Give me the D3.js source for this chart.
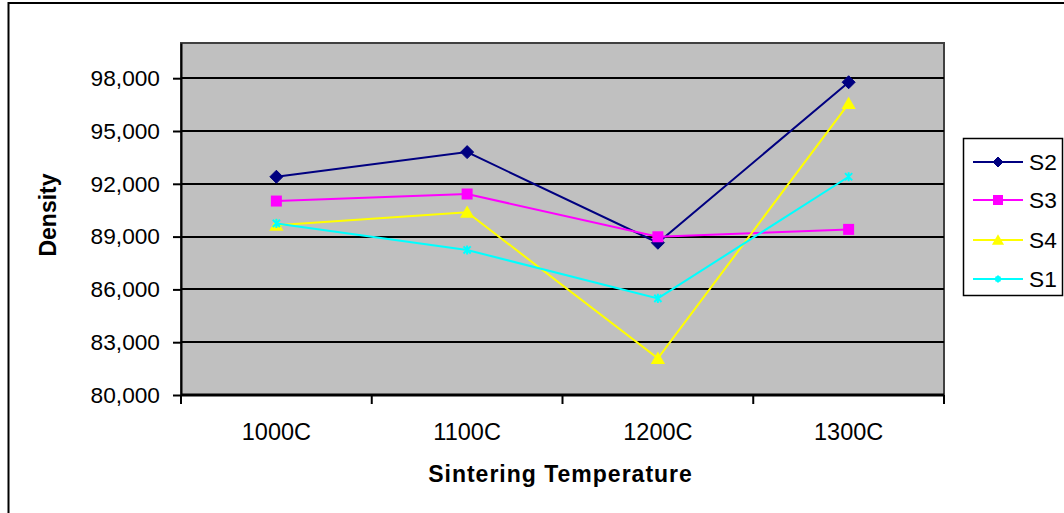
<!DOCTYPE html>
<html>
<head>
<meta charset="utf-8">
<script src="https://cdn.jsdelivr.net/npm/d3@7"></script>
<style>
  html, body { margin: 0; padding: 0; background: #fff; }
  svg { display: block; }
  text { font-family: "Liberation Sans", Arial, sans-serif; fill: #000; }
</style>
</head>
<body>
<svg id="chart" width="1064" height="513"></svg>
<script>
// ---- data ----
const categories = ["1000C", "1100C", "1200C", "1300C"];
const seriesNames = ["S2", "S3", "S4", "S1"];
const s2 = [92400, 93800, 88650, 97770];
const s3 = [91020, 91420, 88990, 89410];
const s4 = [89650, 90380, 82080, 96560];
const s1 = [89750, 88240, 85490, 92400];
const yTicks = [80000, 83000, 86000, 89000, 92000, 95000, 98000];
const yDomain = [80000, 100000];
const xTitle = "Sintering Temperature";
const yTitle = "Density";

const seriesValues = [s2, s3, s4, s1];
const seriesColors = ["#000080", "#FF00FF", "#FFFF00", "#00FFFF"];
const seriesMarkers = ["diamond", "square", "triangle", "star"];

// ---- layout ----
const svg = d3.select("#chart");
const plot = { left: 181, right: 944, top: 43, bottom: 395 };

// outer chart border (cropped at right/bottom)
svg.append("path")
  .attr("d", `M8.5,${513 + 5} L8.5,3 L${1064 + 5},3`)
  .attr("fill", "none").attr("stroke", "#000").attr("stroke-width", 2);

const x = d3.scaleBand().domain(categories).range([plot.left, plot.right]);
const y = d3.scaleLinear().domain(yDomain).range([plot.bottom, plot.top]);

// plot area
svg.append("rect")
  .attr("x", plot.left).attr("y", plot.top)
  .attr("width", plot.right - plot.left).attr("height", plot.bottom - plot.top)
  .attr("fill", "#C0C0C0").attr("stroke", "#404040").attr("stroke-width", 2);

// gridlines
svg.append("g").selectAll("line").data(yTicks.filter(d => d > yDomain[0]))
  .join("line")
  .attr("x1", plot.left).attr("x2", plot.right)
  .attr("y1", d => Math.round(y(d))).attr("y2", d => Math.round(y(d)))
  .attr("stroke", "#000").attr("stroke-width", 2);

// y axis
const yAxis = d3.axisLeft(y).tickValues(yTicks).tickFormat(d3.format(",")).tickSizeInner(8).tickSizeOuter(0).tickPadding(13);
const gy = svg.append("g").attr("transform", `translate(${plot.left},0)`).call(yAxis);
gy.select(".domain").attr("stroke", "#000").attr("stroke-width", 2);
gy.selectAll(".tick line").attr("stroke", "#000").attr("stroke-width", 2);
gy.selectAll(".tick text").attr("font-size", "22.7px").attr("font-family", "Liberation Sans, Arial, sans-serif").attr("fill", "#000");

// x axis
const xEdges = categories.map(c => x(c)).concat([plot.right]);
const gx = svg.append("g");
gx.append("line").attr("x1", plot.left).attr("x2", plot.right)
  .attr("y1", plot.bottom).attr("y2", plot.bottom)
  .attr("stroke", "#000").attr("stroke-width", 3);
gx.selectAll("line.tk").data(xEdges).join("line").attr("class", "tk")
  .attr("x1", d => d).attr("x2", d => d)
  .attr("y1", plot.bottom).attr("y2", plot.bottom + 9)
  .attr("stroke", "#000").attr("stroke-width", 2);
gx.selectAll("text").data(categories).join("text")
  .attr("x", d => x(d) + x.bandwidth() / 2).attr("y", 440)
  .attr("text-anchor", "middle").attr("font-size", "23.5px")
  .text(d => d);

// axis titles
svg.append("text").attr("x", 560.5).attr("y", 482)
  .attr("text-anchor", "middle").attr("font-size", "23px").attr("font-weight", "bold")
  .attr("letter-spacing", "1px")
  .text(xTitle);
svg.append("text")
  .attr("transform", "translate(56,215) rotate(-90)")
  .attr("text-anchor", "middle").attr("font-size", "23px").attr("font-weight", "bold")
  .text(yTitle);

// marker drawing
function drawMarker(g, type, color, cx, cy, s) {
  if (type === "diamond") {
    g.append("path").attr("d", `M${cx},${cy - s} L${cx + s},${cy} L${cx},${cy + s} L${cx - s},${cy} Z`)
      .attr("fill", color).attr("stroke", color).attr("stroke-width", 1);
  } else if (type === "square") {
    g.append("rect").attr("x", cx - s).attr("y", cy - s).attr("width", 2 * s).attr("height", 2 * s)
      .attr("fill", color);
  } else if (type === "triangle") {
    const h = s * 1.9;
    g.append("path").attr("d", `M${cx},${cy - h * 0.55} L${cx + s * 1.1},${cy + h * 0.45} L${cx - s * 1.1},${cy + h * 0.45} Z`)
      .attr("fill", color);
  } else {
    const r = s * 0.6;
    g.append("path").attr("d", `M${cx - r},${cy - r} L${cx + r},${cy + r} M${cx - r},${cy + r} L${cx + r},${cy - r} M${cx},${cy - r - 1} L${cx},${cy + r + 1}`)
      .attr("stroke", color).attr("stroke-width", 2).attr("fill", "none");
  }
}

const markerSize = [6.5, 5.5, 6.5, 6];
const line = d3.line().x((d, i) => x(categories[i]) + x.bandwidth() / 2).y(d => y(d));

seriesValues.forEach((vals, si) => {
  const g = svg.append("g");
  g.append("path").attr("d", line(vals)).attr("fill", "none")
    .attr("stroke", seriesColors[si]).attr("stroke-width", 2);
  vals.forEach((v, i) => {
    drawMarker(g, seriesMarkers[si], seriesColors[si], x(categories[i]) + x.bandwidth() / 2, y(v), markerSize[si]);
  });
});

// legend
const legend = svg.append("g");
legend.append("rect").attr("x", 963.5).attr("y", 138.5).attr("width", 99).attr("height", 157)
  .attr("fill", "#fff").attr("stroke", "#000").attr("stroke-width", 1.5);
const legendY = [162, 200, 240, 279];
const legendMarkerSize = [5, 5, 5.5, 4];
seriesNames.forEach((name, si) => {
  const ly = legendY[si];
  legend.append("line").attr("x1", 973).attr("x2", 1023).attr("y1", ly).attr("y2", ly)
    .attr("stroke", seriesColors[si]).attr("stroke-width", 2);
  drawMarker(legend, seriesMarkers[si], seriesColors[si], 998, ly, legendMarkerSize[si]);
  legend.append("text").attr("x", 1029).attr("y", ly + 8).attr("font-size", "22.7px").text(name);
});
</script>
</body>
</html>
